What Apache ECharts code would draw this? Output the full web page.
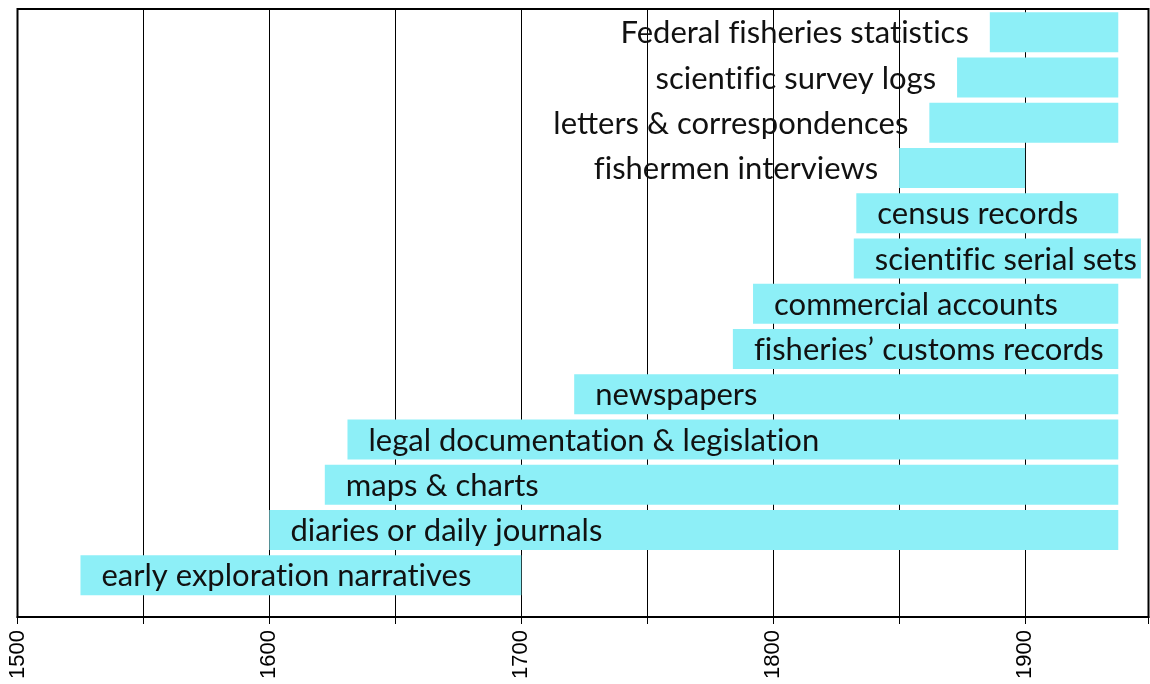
<!DOCTYPE html>
<html>
<head>
<meta charset="utf-8">
<style>
  html, body { margin: 0; padding: 0; background: #fff; }
  #chart { width: 1150px; height: 684px; }
</style>
<script src="https://cdn.jsdelivr.net/npm/echarts@6/dist/echarts.min.js"></script>
</head>
<body>
<div id="chart"></div>
<script>
// Historical source types for fisheries data, listed top to bottom
const sources = [
  'Federal fisheries statistics',
  'scientific survey logs',
  'letters & correspondences',
  'fishermen interviews',
  'census records',
  'scientific serial sets',
  'commercial accounts',
  'fisheries\u2019 customs records',
  'newspapers',
  'legal documentation & legislation',
  'maps & charts',
  'diaries or daily journals',
  'early exploration narratives'
];
// First and last year covered by each source
const startYears = [1886, 1873, 1862, 1850, 1833, 1832, 1792, 1784, 1721, 1631, 1622, 1600, 1525];
const endYears   = [1937, 1937, 1937, 1900, 1937, 1946, 1937, 1937, 1937, 1937, 1937, 1937, 1700];
// Year axis
const yearMin = 1500;
const yearMax = 1949;
const yearStep = 50;

const rows = sources.map((s, i) => [i, startYears[i], endYears[i]]);

// Sources that begin late get their label to the left of the bar
const labelOutsideAfter = 1845;

// Keep "fi" / "ti" as separate letters (no font ligatures)
const noLigatures = s => s.replace(/([ft])(i)/g, '$1\u200C$2');

const chart = echarts.init(document.getElementById('chart'), null, { renderer: 'canvas' });

chart.setOption({
  animation: false,
  backgroundColor: '#ffffff',
  grid: {
    left: 17.5, right: 1.5, top: 9, bottom: 67,
    show: true, borderColor: '#000', borderWidth: 2, backgroundColor: 'transparent'
  },
  xAxis: {
    type: 'value',
    min: yearMin,
    max: yearMax,
    interval: yearStep,
    axisLine: { show: true, onZero: false, lineStyle: { color: '#000', width: 2 } },
    axisTick: { show: true, length: 7, lineStyle: { color: '#000', width: 1 } },
    splitLine: { show: true, lineStyle: { color: '#000', width: 1 } },
    axisLabel: {
      rotate: 90,
      margin: 13,
      color: '#000',
      fontFamily: 'Liberation Sans',
      fontSize: 22,
      formatter: v => (v % 100 === 0 ? String(v) : '')
    }
  },
  yAxis: {
    type: 'value',
    inverse: true,
    min: -0.515,
    max: 12.921,
    show: false,
    splitLine: { show: false }
  },
  series: [{
    type: 'custom',
    data: rows,
    encode: { x: [1, 2], y: 0 },
    renderItem: (params, api) => {
      const idx = params.dataIndex;
      const row = api.value(0);
      const p0 = api.coord([api.value(1), row]);
      const p1 = api.coord([api.value(2), row]);
      const h = api.size([0, 1])[1] * 0.885;
      const outside = api.value(1) > labelOutsideAfter;
      return {
        type: 'group',
        children: [
          {
            type: 'rect',
            shape: { x: p0[0], y: p0[1] - h / 2, width: p1[0] - p0[0], height: h },
            style: { fill: '#8DEFF7' }
          },
          {
            type: 'text',
            style: {
              text: noLigatures(sources[idx]),
              x: outside ? p0[0] - 21 : p0[0] + 21,
              y: p0[1] + 1,
              align: outside ? 'right' : 'left',
              verticalAlign: 'middle',
              fontFamily: 'Lato',
              fontSize: 31,
              fill: '#111'
            }
          }
        ]
      };
    }
  }]
});
</script>
</body>
</html>
